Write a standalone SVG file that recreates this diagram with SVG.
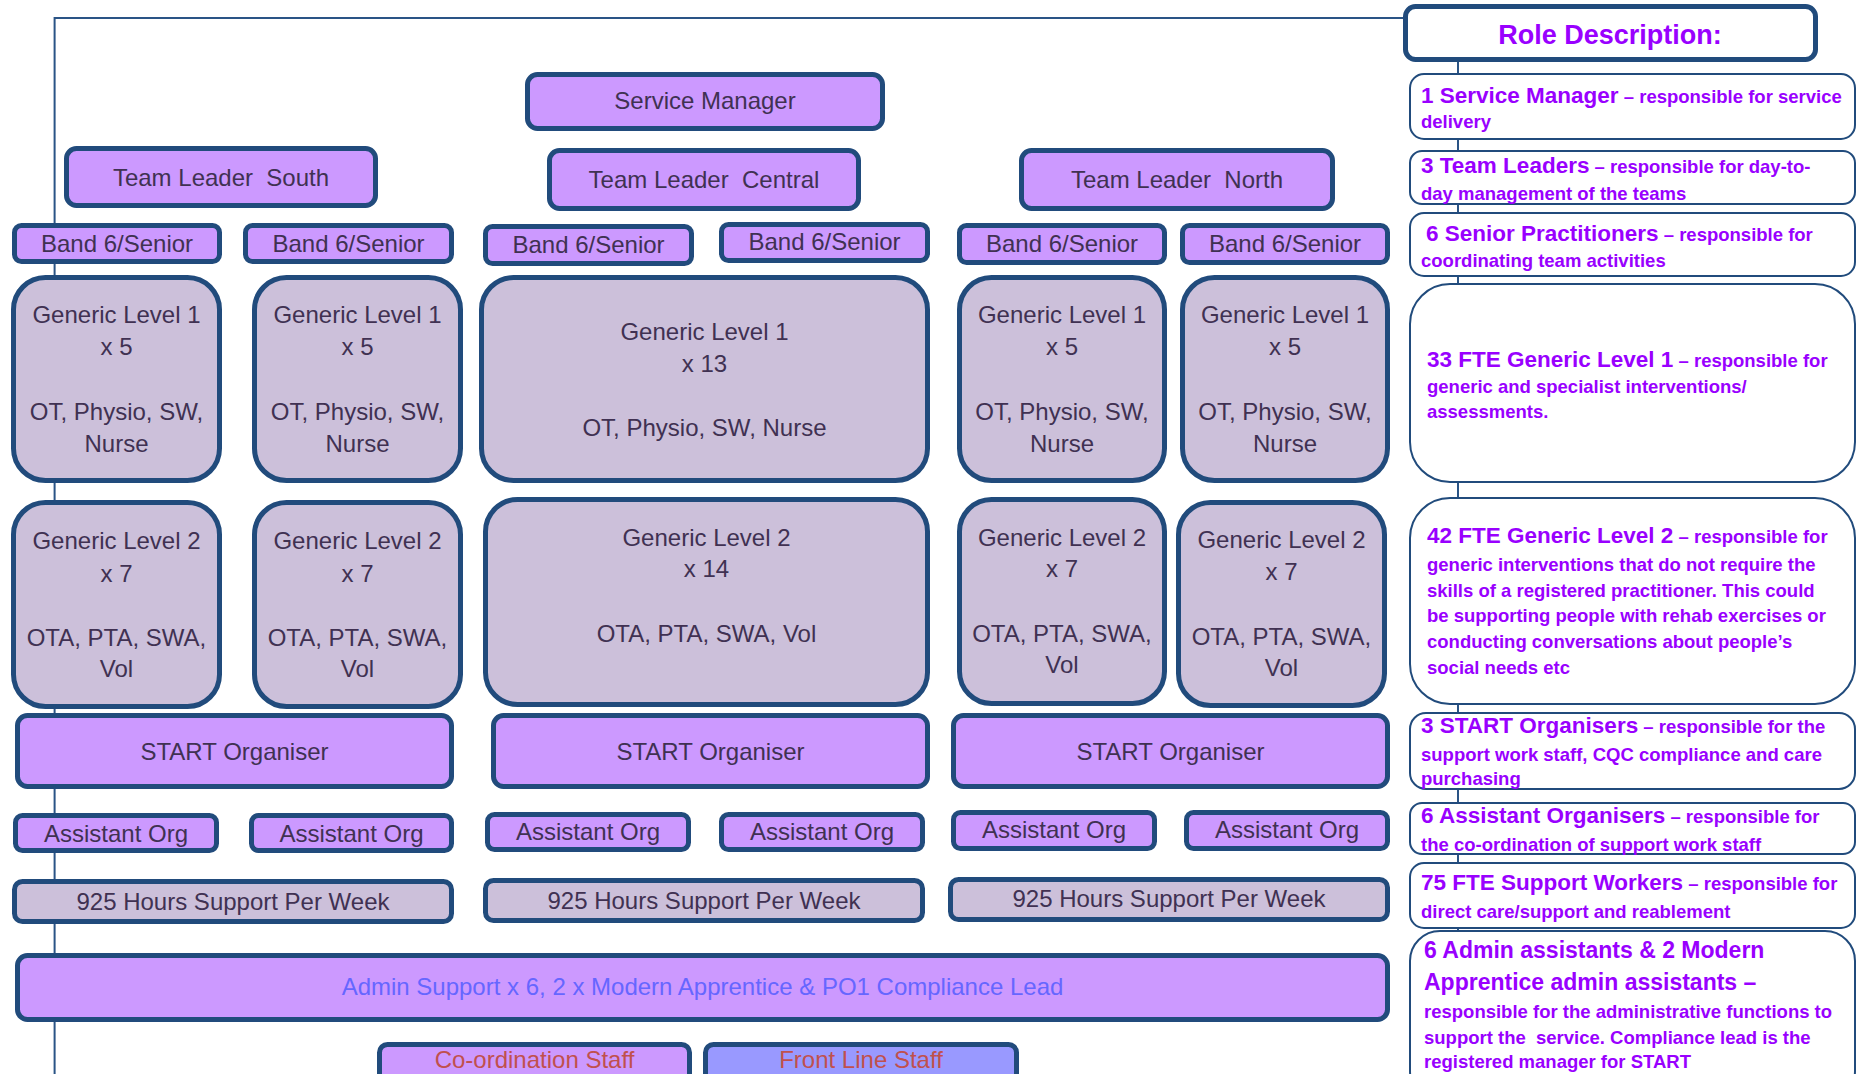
<svg xmlns="http://www.w3.org/2000/svg" width="1858" height="1074" viewBox="0 0 1858 1074">
<style>
.bx{stroke:#214b7c;stroke-width:5}
.p{fill:#cc99ff}
.g{fill:#ccc0da}
.fl{fill:#9999ff}
.ds{fill:#ffffff;stroke:#214b7c;stroke-width:2}
.rl{fill:#ffffff;stroke:#214b7c;stroke-width:5}
.n{font-family:"Liberation Sans",Arial,sans-serif;font-size:24px;fill:#403152;text-anchor:middle}
.d{font-family:"Liberation Sans",Arial,sans-serif;font-weight:bold;fill:#9900ff}
.t{font-size:22.5px}
.s{font-size:18.5px}
.cn{fill:none;stroke:#2a5486;stroke-width:2}
</style>
<rect width="1858" height="1074" fill="#ffffff"/>
<g id="connectors">
<path class="cn" d="M1404,18 H54.6 V1074"/>
<path class="cn" d="M1458,60 V1074"/>
</g>
<g id="service-manager"><rect class="bx p" x="527.5" y="74.5" width="355" height="54" rx="10"/><text class="n" x="705" y="109">Service Manager</text></g>
<g id="tl-south"><rect class="bx p" x="66.5" y="148.5" width="309" height="57" rx="10"/><text class="n" x="221" y="186" xml:space="preserve">Team Leader  South</text></g>
<g id="tl-central"><rect class="bx p" x="549.5" y="150.5" width="309" height="58" rx="10"/><text class="n" x="704" y="188" xml:space="preserve">Team Leader  Central</text></g>
<g id="tl-north"><rect class="bx p" x="1021.5" y="150.5" width="311" height="58" rx="10"/><text class="n" x="1177" y="188" xml:space="preserve">Team Leader  North</text></g>
<g id="band6-1"><rect class="bx p" x="14.5" y="225.5" width="205" height="36" rx="7"/><text class="n" x="117" y="252">Band 6/Senior</text></g>
<g id="band6-2"><rect class="bx p" x="245.5" y="225.5" width="206" height="36" rx="7"/><text class="n" x="348.5" y="252">Band 6/Senior</text></g>
<g id="band6-3"><rect class="bx p" x="485.5" y="226.5" width="206" height="37" rx="7"/><text class="n" x="588.5" y="253">Band 6/Senior</text></g>
<g id="band6-4"><rect class="bx p" x="721.5" y="224.5" width="206" height="36" rx="7"/><text class="n" x="824.5" y="250">Band 6/Senior</text></g>
<g id="band6-5"><rect class="bx p" x="959.5" y="225.5" width="205" height="37" rx="7"/><text class="n" x="1062" y="252">Band 6/Senior</text></g>
<g id="band6-6"><rect class="bx p" x="1182.5" y="225.5" width="205" height="37" rx="7"/><text class="n" x="1285" y="252">Band 6/Senior</text></g>
<g id="gl1-1"><rect class="bx g" x="13.5" y="277.5" width="206" height="203" rx="32"/><text class="n"><tspan x="116.5" y="323">Generic Level 1</tspan><tspan x="116.5" y="355">x 5</tspan><tspan x="116.5" y="420">OT, Physio, SW,</tspan><tspan x="116.5" y="452">Nurse</tspan></text></g>
<g id="gl1-2"><rect class="bx g" x="254.5" y="277.5" width="206" height="203" rx="32"/><text class="n"><tspan x="357.5" y="323">Generic Level 1</tspan><tspan x="357.5" y="355">x 5</tspan><tspan x="357.5" y="420">OT, Physio, SW,</tspan><tspan x="357.5" y="452">Nurse</tspan></text></g>
<g id="gl1-3"><rect class="bx g" x="481.5" y="277.5" width="446" height="203" rx="32"/><text class="n"><tspan x="704.5" y="340">Generic Level 1</tspan><tspan x="704.5" y="372">x 13</tspan><tspan x="704.5" y="436">OT, Physio, SW, Nurse</tspan></text></g>
<g id="gl1-4"><rect class="bx g" x="959.5" y="277.5" width="205" height="203" rx="32"/><text class="n"><tspan x="1062" y="323">Generic Level 1</tspan><tspan x="1062" y="355">x 5</tspan><tspan x="1062" y="420">OT, Physio, SW,</tspan><tspan x="1062" y="452">Nurse</tspan></text></g>
<g id="gl1-5"><rect class="bx g" x="1182.5" y="277.5" width="205" height="203" rx="32"/><text class="n"><tspan x="1285" y="323">Generic Level 1</tspan><tspan x="1285" y="355">x 5</tspan><tspan x="1285" y="420">OT, Physio, SW,</tspan><tspan x="1285" y="452">Nurse</tspan></text></g>
<g id="gl2-1"><rect class="bx g" x="13.5" y="502.5" width="206" height="204" rx="32"/><text class="n"><tspan x="116.5" y="549">Generic Level 2</tspan><tspan x="116.5" y="582">x 7</tspan><tspan x="116.5" y="646">OTA, PTA, SWA,</tspan><tspan x="116.5" y="677">Vol</tspan></text></g>
<g id="gl2-2"><rect class="bx g" x="254.5" y="502.5" width="206" height="204" rx="32"/><text class="n"><tspan x="357.5" y="549">Generic Level 2</tspan><tspan x="357.5" y="582">x 7</tspan><tspan x="357.5" y="646">OTA, PTA, SWA,</tspan><tspan x="357.5" y="677">Vol</tspan></text></g>
<g id="gl2-3"><rect class="bx g" x="485.5" y="499.5" width="442" height="205" rx="32"/><text class="n"><tspan x="706.5" y="546">Generic Level 2</tspan><tspan x="706.5" y="577">x 14</tspan><tspan x="706.5" y="642">OTA, PTA, SWA, Vol</tspan></text></g>
<g id="gl2-4"><rect class="bx g" x="959.5" y="499.5" width="205" height="204" rx="32"/><text class="n"><tspan x="1062" y="546">Generic Level 2</tspan><tspan x="1062" y="577">x 7</tspan><tspan x="1062" y="642">OTA, PTA, SWA,</tspan><tspan x="1062" y="673">Vol</tspan></text></g>
<g id="gl2-5"><rect class="bx g" x="1178.5" y="502.5" width="206" height="203" rx="32"/><text class="n"><tspan x="1281.5" y="548">Generic Level 2</tspan><tspan x="1281.5" y="580">x 7</tspan><tspan x="1281.5" y="645">OTA, PTA, SWA,</tspan><tspan x="1281.5" y="676">Vol</tspan></text></g>
<g id="start-1"><rect class="bx p" x="17.5" y="715.5" width="434" height="71" rx="10"/><text class="n" x="234.5" y="760">START Organiser</text></g>
<g id="start-2"><rect class="bx p" x="493.5" y="715.5" width="434" height="71" rx="10"/><text class="n" x="710.5" y="760">START Organiser</text></g>
<g id="start-3"><rect class="bx p" x="953.5" y="715.5" width="434" height="71" rx="10"/><text class="n" x="1170.5" y="760">START Organiser</text></g>
<g id="asst-1"><rect class="bx p" x="15.5" y="815.5" width="201" height="35" rx="7"/><text class="n" x="116" y="842">Assistant Org</text></g>
<g id="asst-2"><rect class="bx p" x="251.5" y="815.5" width="200" height="35" rx="7"/><text class="n" x="351.5" y="842">Assistant Org</text></g>
<g id="asst-3"><rect class="bx p" x="487.5" y="814.5" width="201" height="35" rx="7"/><text class="n" x="588" y="840">Assistant Org</text></g>
<g id="asst-4"><rect class="bx p" x="721.5" y="814.5" width="201" height="35" rx="7"/><text class="n" x="822" y="840">Assistant Org</text></g>
<g id="asst-5"><rect class="bx p" x="953.5" y="812.5" width="201" height="36" rx="7"/><text class="n" x="1054" y="838">Assistant Org</text></g>
<g id="asst-6"><rect class="bx p" x="1186.5" y="812.5" width="201" height="36" rx="7"/><text class="n" x="1287" y="838">Assistant Org</text></g>
<g id="hours-1"><rect class="bx g" x="14.5" y="881.5" width="437" height="40" rx="8"/><text class="n" x="233" y="910">925 Hours Support Per Week</text></g>
<g id="hours-2"><rect class="bx g" x="485.5" y="880.5" width="437" height="40" rx="8"/><text class="n" x="704" y="909">925 Hours Support Per Week</text></g>
<g id="hours-3"><rect class="bx g" x="950.5" y="879.5" width="437" height="40" rx="8"/><text class="n" x="1169" y="907">925 Hours Support Per Week</text></g>
<g id="admin"><rect class="bx p" x="17.5" y="955.5" width="1370" height="64" rx="10"/><text class="n" x="702.5" y="995" style="fill:#6666ff">Admin Support x 6, 2 x Modern Apprentice &amp; PO1 Compliance Lead</text></g>
<g id="legend-coordination"><rect class="bx p" x="379.5" y="1044.5" width="310" height="50" rx="8"/><text class="n" x="534.5" y="1068" style="fill:#c0504d">Co-ordination Staff</text></g>
<g id="legend-frontline"><rect class="bx fl" x="705.5" y="1044.5" width="311" height="50" rx="8"/><text class="n" x="861" y="1068" style="fill:#c0504d">Front Line Staff</text></g>
<g id="role-description"><rect class="rl" x="1405.5" y="6.5" width="410" height="53" rx="10"/><text class="d" x="1610" y="44" style="font-size:27px;text-anchor:middle">Role Description:</text></g>
<g id="desc-sm"><rect class="ds" x="1410" y="74" width="445" height="65" rx="14"/><text class="d"><tspan class="t" x="1421" y="103">1 Service Manager</tspan><tspan class="s"> – responsible for service</tspan><tspan class="s" x="1421" y="128">delivery</tspan></text></g>
<g id="desc-tl"><rect class="ds" x="1410" y="151" width="445" height="53" rx="12"/><text class="d"><tspan class="t" x="1421" y="173">3 Team Leaders</tspan><tspan class="s"> – responsible for day-to-</tspan><tspan class="s" x="1421" y="200">day management of the teams</tspan></text></g>
<g id="desc-sp"><rect class="ds" x="1410" y="213" width="445" height="63" rx="14"/><text class="d"><tspan class="t" x="1426" y="241">6 Senior Practitioners</tspan><tspan class="s"> – responsible for</tspan><tspan class="s" x="1421" y="267">coordinating team activities</tspan></text></g>
<g id="desc-gl1"><rect class="ds" x="1410" y="284" width="445" height="198" rx="40"/><text class="d"><tspan class="t" x="1427" y="367">33 FTE Generic Level 1</tspan><tspan class="s"> – responsible for</tspan><tspan class="s" x="1427" y="393">generic and specialist interventions/</tspan><tspan class="s" x="1427" y="418">assessments.</tspan></text></g>
<g id="desc-gl2"><rect class="ds" x="1410" y="498" width="445" height="206" rx="40"/><text class="d"><tspan class="t" x="1427" y="543">42 FTE Generic Level 2</tspan><tspan class="s"> – responsible for</tspan><tspan class="s" x="1427" y="571">generic interventions that do not require the</tspan><tspan class="s" x="1427" y="597">skills of a registered practitioner. This could</tspan><tspan class="s" x="1427" y="622">be supporting people with rehab exercises or</tspan><tspan class="s" x="1427" y="648">conducting conversations about people’s</tspan><tspan class="s" x="1427" y="674">social needs etc</tspan></text></g>
<g id="desc-start"><rect class="ds" x="1410" y="713" width="445" height="76" rx="16"/><text class="d"><tspan class="t" x="1421" y="733">3 START Organisers</tspan><tspan class="s"> – responsible for the</tspan><tspan class="s" x="1421" y="761">support work staff, CQC compliance and care</tspan><tspan class="s" x="1421" y="785">purchasing</tspan></text></g>
<g id="desc-asst"><rect class="ds" x="1410" y="803" width="445" height="51" rx="12"/><text class="d"><tspan class="t" x="1421" y="823">6 Assistant Organisers</tspan><tspan class="s"> – responsible for</tspan><tspan class="s" x="1421" y="851">the co-ordination of support work staff</tspan></text></g>
<g id="desc-sw"><rect class="ds" x="1410" y="863" width="445" height="65" rx="14"/><text class="d"><tspan class="t" x="1421" y="890">75 FTE Support Workers</tspan><tspan class="s"> – responsible for</tspan><tspan class="s" x="1421" y="918">direct care/support and reablement</tspan></text></g>
<g id="desc-admin"><rect class="ds" x="1410" y="931" width="445" height="170" rx="30"/><text class="d" xml:space="preserve"><tspan class="t" x="1424" y="958" style="font-size:23px">6 Admin assistants &amp; 2 Modern</tspan><tspan class="t" x="1424" y="990" style="font-size:23px">Apprentice admin assistants –</tspan><tspan class="s" x="1424" y="1018">responsible for the administrative functions to</tspan><tspan class="s" x="1424" y="1044">support the  service. Compliance lead is the</tspan><tspan class="s" x="1424" y="1068">registered manager for START</tspan></text></g>
</svg>
